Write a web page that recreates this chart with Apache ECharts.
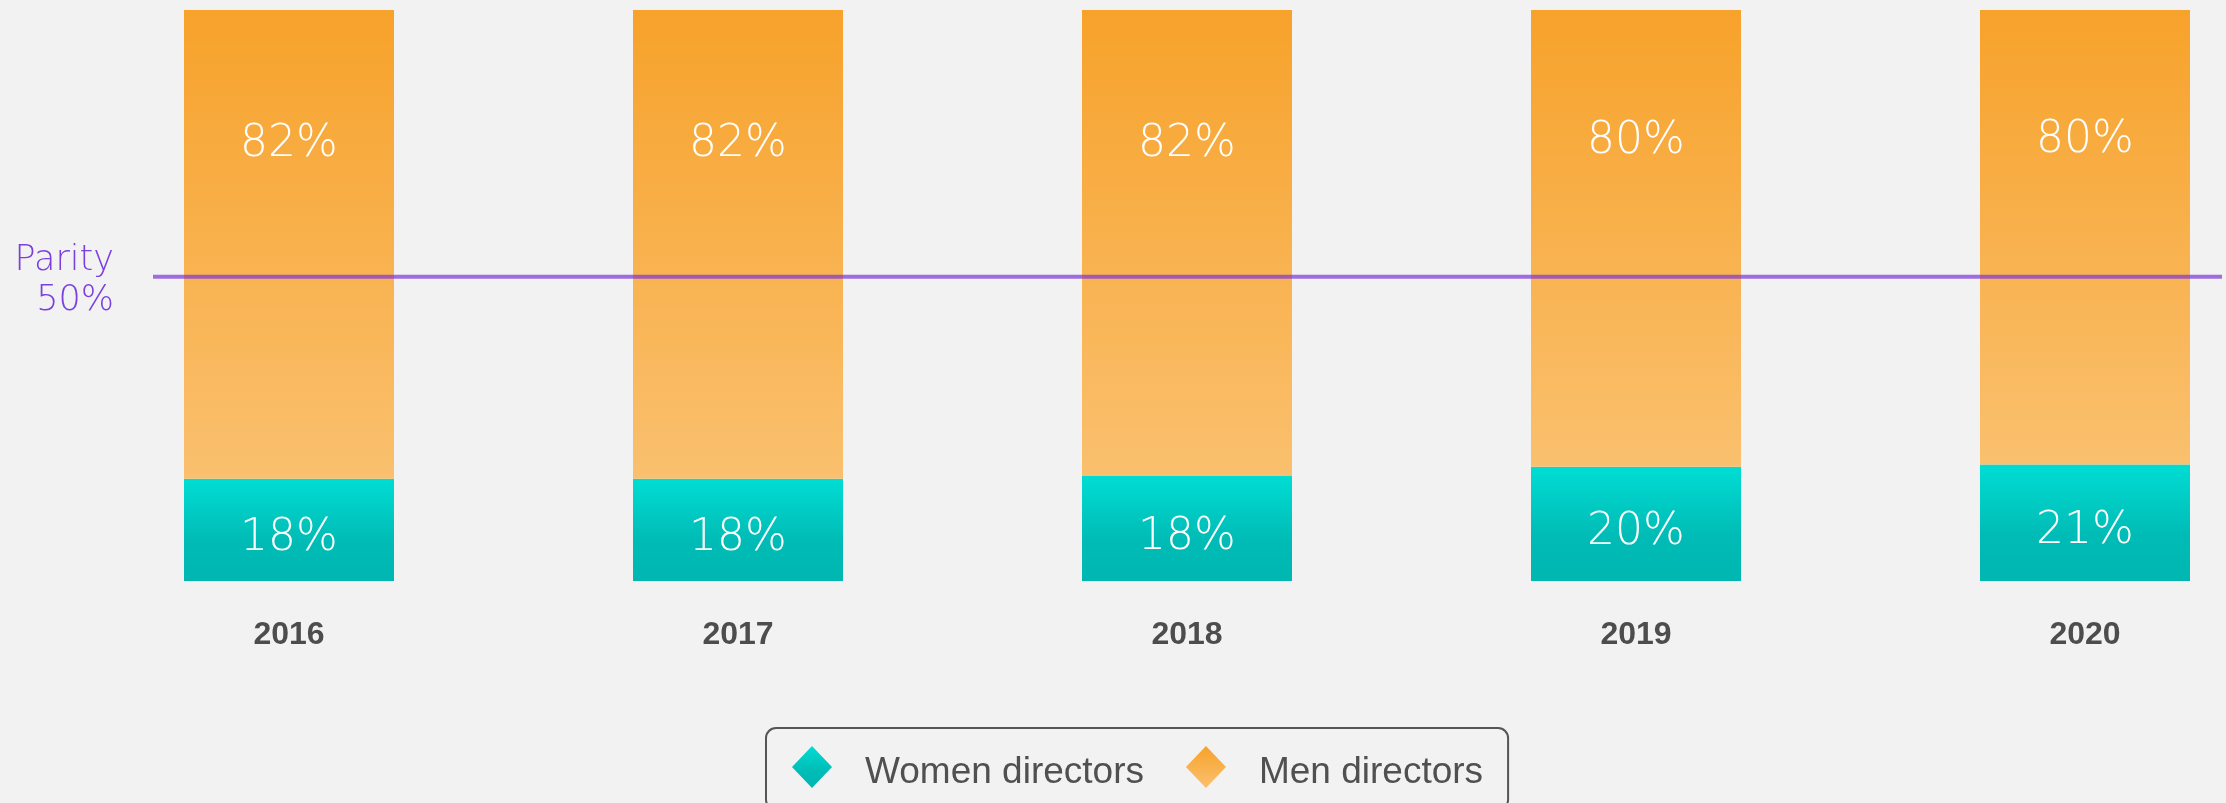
<!DOCTYPE html>
<html>
<head>
<meta charset="utf-8">
<style>
  html, body { margin: 0; padding: 0; background: #f2f2f2; }
  #chart { width: 2226px; height: 803px; }
</style>
<script src="https://cdn.jsdelivr.net/npm/echarts@6/dist/echarts.min.js"></script>
</head>
<body>
<div id="chart"></div>
<script>
// ---- data ----
const years = ['2016', '2017', '2018', '2019', '2020'];
const womenShare = [17.9, 17.9, 18.4, 20.0, 20.4];     // bar heights (% of board)
const menShare = [82.1, 82.1, 81.6, 80.0, 79.6];
const womenLabels = ['18%', '18%', '18%', '20%', '21%'];
const menLabels = ['82%', '82%', '82%', '80%', '80%'];
const parityText = ['Parity', '50%'];
const parityLevel = 53.3;   // level at which the reference draws its parity line
const seriesNames = ['Women directors', 'Men directors'];

const lightFont = '"DejaVu Sans", sans-serif';

const chart = echarts.init(document.getElementById('chart'));

const orange = new echarts.graphic.LinearGradient(0, 0, 0, 1, [
  { offset: 0, color: '#f7a22b' },
  { offset: 1, color: '#fac06e' }
]);
const teal = new echarts.graphic.LinearGradient(0, 0, 0, 1, [
  { offset: 0, color: '#00ddd4' },
  { offset: 0.6, color: '#00bcb6' },
  { offset: 1, color: '#00b6b1' }
]);

chart.setOption({
  backgroundColor: '#f2f2f2',
  animation: false,
  legend: {
    data: seriesNames,
    left: 766,
    top: 728,
    padding: [18, 25, 18, 26],
    itemWidth: 40,
    itemHeight: 42,
    itemGap: 42,
    icon: 'diamond',
    borderColor: '#555555',
    borderWidth: 2,
    borderRadius: 10,
    formatter: name => '{t|' + name + '}',
    textStyle: {
      fontFamily: '"Liberation Sans", Arial, sans-serif',
      fontSize: 37,
      color: '#505050',
      rich: {
        t: {
          fontFamily: '"Liberation Sans", Arial, sans-serif',
          fontSize: 37,
          color: '#505050',
          padding: [12, 0, 0, 28]
        }
      }
    }
  },
  grid: [
    { left: 289, right: 141, top: 10, bottom: 222 },
    { left: 153, right: 4, top: 10, bottom: 222 }
  ],
  xAxis: [
    {
      type: 'category',
      data: years,
      gridIndex: 0,
      boundaryGap: false,
      axisLine: { show: false },
      axisTick: { show: false },
      splitLine: { show: false },
      axisLabel: {
        margin: 38,
        fontFamily: '"Liberation Sans", Arial, sans-serif',
        fontWeight: 'bold',
        fontSize: 32,
        color: '#4d4d4d'
      }
    },
    { type: 'value', gridIndex: 1, min: 0, max: 1, show: false }
  ],
  yAxis: [
    { type: 'value', gridIndex: 0, min: 0, max: 100, show: false },
    { type: 'value', gridIndex: 1, min: 0, max: 100, show: false }
  ],
  series: [
    {
      name: seriesNames[0],
      type: 'bar',
      stack: 'board',
      barWidth: 210,
      data: womenShare,
      itemStyle: { color: teal },
      label: {
        show: true,
        position: 'inside',
        offset: [0, 9],
        formatter: p => womenLabels[p.dataIndex],
        fontFamily: lightFont,
        fontWeight: 200,
        fontSize: 44,
        color: '#ffffff'
      }
    },
    {
      name: seriesNames[1],
      type: 'bar',
      stack: 'board',
      barWidth: 210,
      data: menShare,
      itemStyle: { color: orange },
      label: {
        show: true,
        position: ['50%', '28.8%'],
        align: 'center',
        verticalAlign: 'middle',
        formatter: p => menLabels[p.dataIndex],
        fontFamily: lightFont,
        fontWeight: 200,
        fontSize: 44,
        color: '#ffffff'
      }
    },
    {
      name: 'Parity',
      type: 'line',
      xAxisIndex: 1,
      yAxisIndex: 1,
      z: 5,
      symbol: 'circle',
      symbolSize: 0,
      lineStyle: { color: 'rgba(125,53,218,0.7)', width: 4 },
      itemStyle: { color: 'rgba(0,0,0,0)' },
      data: [
        {
          value: [0, parityLevel],
          label: {
            show: true,
            position: 'left',
            distance: 39,
            offset: [0, 4],
            align: 'right',
            verticalAlign: 'middle',
            formatter: parityText.join('\n'),
            fontFamily: lightFont,
            fontWeight: 200,
            fontSize: 35,
            lineHeight: 40,
            color: '#7b3fe0'
          }
        },
        [1, parityLevel]
      ]
    }
  ]
});
</script>
</body>
</html>
